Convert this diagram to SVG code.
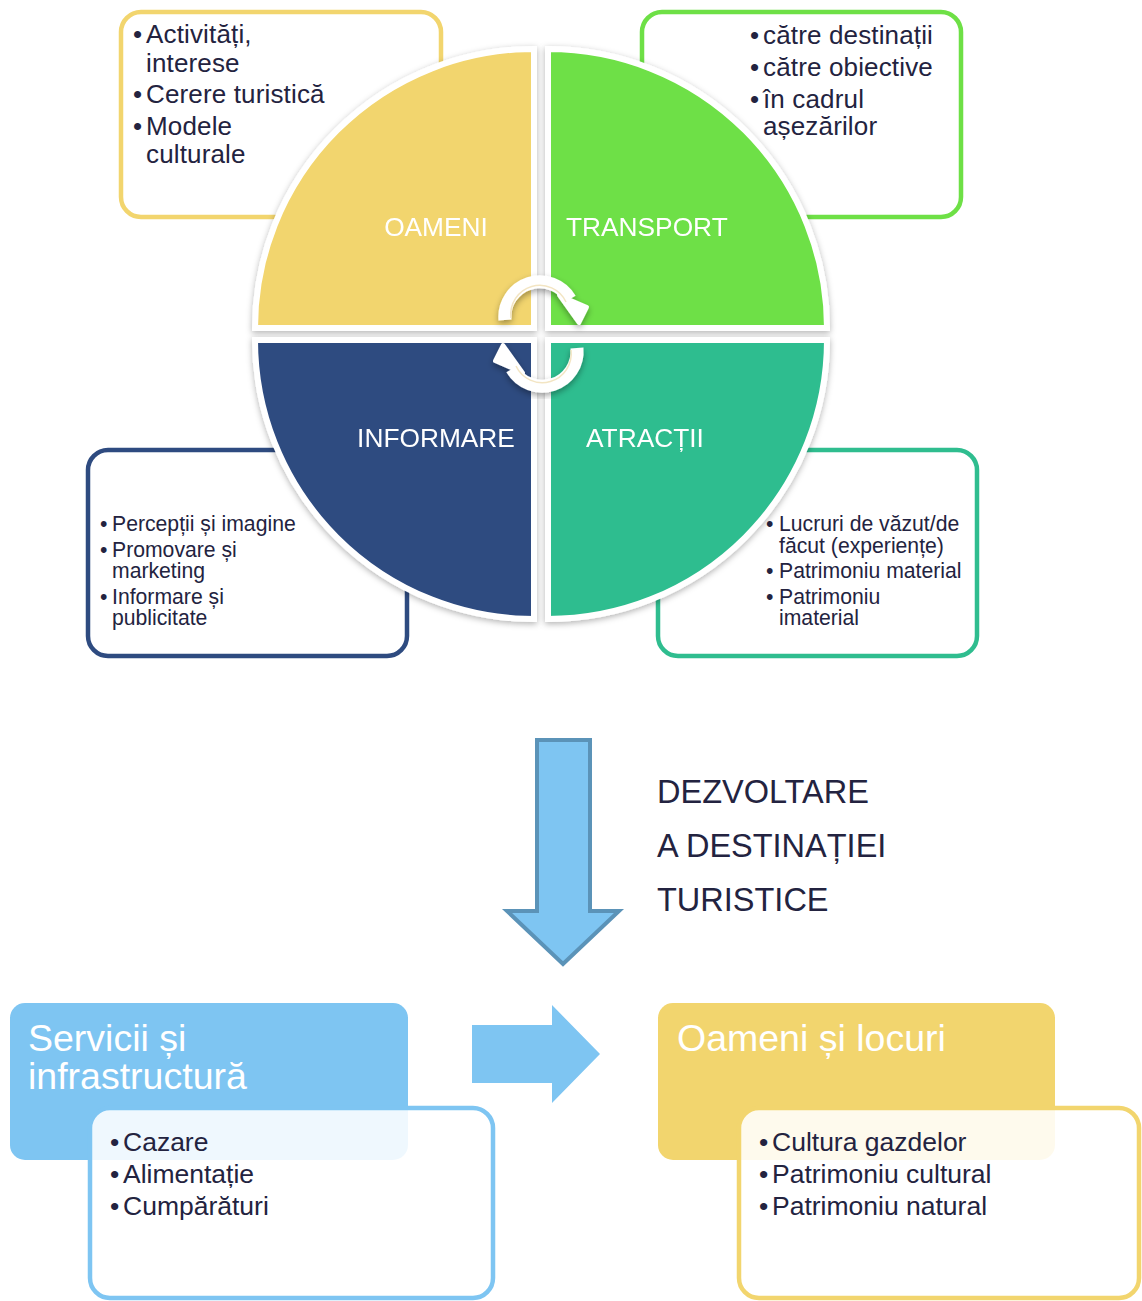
<svg xmlns="http://www.w3.org/2000/svg" width="1142" height="1301" viewBox="0 0 1142 1301">
<defs>
<filter id="sh" x="-20%" y="-20%" width="140%" height="140%">
<feDropShadow dx="0" dy="2" stdDeviation="3" flood-color="#000" flood-opacity="0.3"/>
</filter>
<filter id="sh2" x="-30%" y="-30%" width="160%" height="160%">
<feDropShadow dx="0" dy="3" stdDeviation="3" flood-color="#000" flood-opacity="0.35"/>
</filter>
</defs>
<style>
.t{font-family:"Liberation Sans",Arial,sans-serif;fill:#232340}
.l{font-family:"Liberation Sans",Arial,sans-serif;fill:#fff;font-size:26.3px}
.big{font-size:37.5px}
.box{fill:#fff;stroke-width:4.5}
.q{stroke:#fff;stroke-width:6}
.b24{font-size:26px;letter-spacing:0.15px}
.b21{font-size:21.2px}
.b25{font-size:26.5px}
.ttl{font-size:32.5px}
.arc{fill:none;stroke:#fff;stroke-width:13}
</style>
<g id="box-oameni"><rect class="box" x="121" y="12" width="320" height="205" rx="20" stroke="#F2D56E"/>
<text class="t b24"><tspan x="133" y="43">•</tspan><tspan x="146" y="43">Activități,</tspan><tspan x="146" y="72">interese</tspan><tspan x="133" y="103">•</tspan><tspan x="146" y="103">Cerere turistică</tspan><tspan x="133" y="135">•</tspan><tspan x="146" y="135">Modele</tspan><tspan x="146" y="163">culturale</tspan></text></g>
<g id="box-transport"><rect class="box" x="642" y="12" width="319" height="205" rx="20" stroke="#6EE046"/>
<text class="t b24"><tspan x="750" y="44">•</tspan><tspan x="763" y="44">către destinații</tspan><tspan x="750" y="76">•</tspan><tspan x="763" y="76">către obiective</tspan><tspan x="750" y="108">•</tspan><tspan x="763" y="108">în cadrul</tspan><tspan x="763" y="135">așezărilor</tspan></text></g>
<g id="box-informare"><rect class="box" x="88" y="450" width="319" height="206" rx="20" stroke="#2E4B80"/>
<text class="t b21"><tspan x="100" y="531">•</tspan><tspan x="112" y="531">Percepții și imagine</tspan><tspan x="100" y="557">•</tspan><tspan x="112" y="557">Promovare și</tspan><tspan x="112" y="578">marketing</tspan><tspan x="100" y="604">•</tspan><tspan x="112" y="604">Informare și</tspan><tspan x="112" y="625">publicitate</tspan></text></g>
<g id="box-atractii"><rect class="box" x="658" y="450" width="319" height="206" rx="20" stroke="#2FBD8F"/>
<text class="t b21"><tspan x="766" y="531">•</tspan><tspan x="779" y="531">Lucruri de văzut/de</tspan><tspan x="779" y="553">făcut (experiențe)</tspan><tspan x="766" y="578">•</tspan><tspan x="779" y="578">Patrimoniu material</tspan><tspan x="766" y="604">•</tspan><tspan x="779" y="604">Patrimoniu</tspan><tspan x="779" y="625">imaterial</tspan></text></g>
<g id="q-oameni" filter="url(#sh)"><path class="q" fill="#F2D56E" d="M534,328 L255,328 A279,279 0 0 1 534,49 Z"/><text class="l" x="436" y="236" text-anchor="middle">OAMENI</text></g>
<g id="q-transport" filter="url(#sh)"><path class="q" fill="#6EE046" d="M548,328 L548,49 A279,279 0 0 1 827,328 Z"/><text class="l" x="566" y="236">TRANSPORT</text></g>
<g id="q-informare" filter="url(#sh)"><path class="q" fill="#2E4B80" d="M534,340 L534,619 A279,279 0 0 1 255,340 Z"/><text class="l" x="436" y="447" text-anchor="middle">INFORMARE</text></g>
<g id="q-atractii" filter="url(#sh)"><path class="q" fill="#2FBD8F" d="M548,340 L827,340 A279,279 0 0 1 548,619 Z"/><text class="l" x="586" y="447">ATRACȚII</text></g>
<g id="connectors">
<g id="cycle-top" filter="url(#sh2)">
<path class="arc" d="M505,320 A35,35 0 0 1 570,299"/>
<polygon points="559,295 587,307 579,323" fill="#fff" stroke="#fff" stroke-width="4" stroke-linejoin="round"/>
<path d="M511,318 A29,29 0 0 1 566,302" fill="none" stroke="#F3E5C3" stroke-width="1.5"/>
</g>
<g id="cycle-bottom" filter="url(#sh2)">
<path class="arc" d="M577,348 A35,35 0 0 1 512,369"/>
<polygon points="523,373 495,361 503,345" fill="#fff" stroke="#fff" stroke-width="4" stroke-linejoin="round"/>
<path d="M571,350 A29,29 0 0 1 516,366" fill="none" stroke="#F3E5C3" stroke-width="1.5"/>
</g>
<polygon id="arrow-down" points="537,740 590,740 590,911 619,911 563,964 507,911 537,911" fill="#7EC5F2" stroke="#5B93B8" stroke-width="4"/>
<polygon id="arrow-right" points="472,1025 552,1025 552,1005 600,1054 552,1103 552,1083 472,1083" fill="#7EC5F2"/>
</g>
<g id="title"><text class="t ttl"><tspan x="657" y="803">DEZVOLTARE</tspan><tspan x="657" y="857">A DESTINAȚIEI</tspan><tspan x="657" y="911">TURISTICE</tspan></text></g>
<g id="servicii">
<rect x="10" y="1003" width="398" height="157" rx="15" fill="#7EC5F2"/>
<text class="l big"><tspan x="28" y="1051">Servicii și</tspan><tspan x="28" y="1089">infrastructură</tspan></text>
<rect x="90" y="1108" width="403" height="190" rx="20" fill="#fff" fill-opacity="0.88" stroke="#7EC5F2" stroke-width="4.5"/>
<text class="t b25"><tspan x="110" y="1151">•</tspan><tspan x="123" y="1151">Cazare</tspan><tspan x="110" y="1183">•</tspan><tspan x="123" y="1183">Alimentație</tspan><tspan x="110" y="1215">•</tspan><tspan x="123" y="1215">Cumpărături</tspan></text>
</g>
<g id="oameni-locuri">
<rect x="658" y="1003" width="397" height="157" rx="15" fill="#F2D56E"/>
<text class="l big" x="677" y="1051">Oameni și locuri</text>
<rect x="739" y="1108" width="400" height="190" rx="20" fill="#fff" fill-opacity="0.88" stroke="#F2D56E" stroke-width="4.5"/>
<text class="t b25"><tspan x="759" y="1151">•</tspan><tspan x="772" y="1151">Cultura gazdelor</tspan><tspan x="759" y="1183">•</tspan><tspan x="772" y="1183">Patrimoniu cultural</tspan><tspan x="759" y="1215">•</tspan><tspan x="772" y="1215">Patrimoniu natural</tspan></text>
</g>
</svg>
